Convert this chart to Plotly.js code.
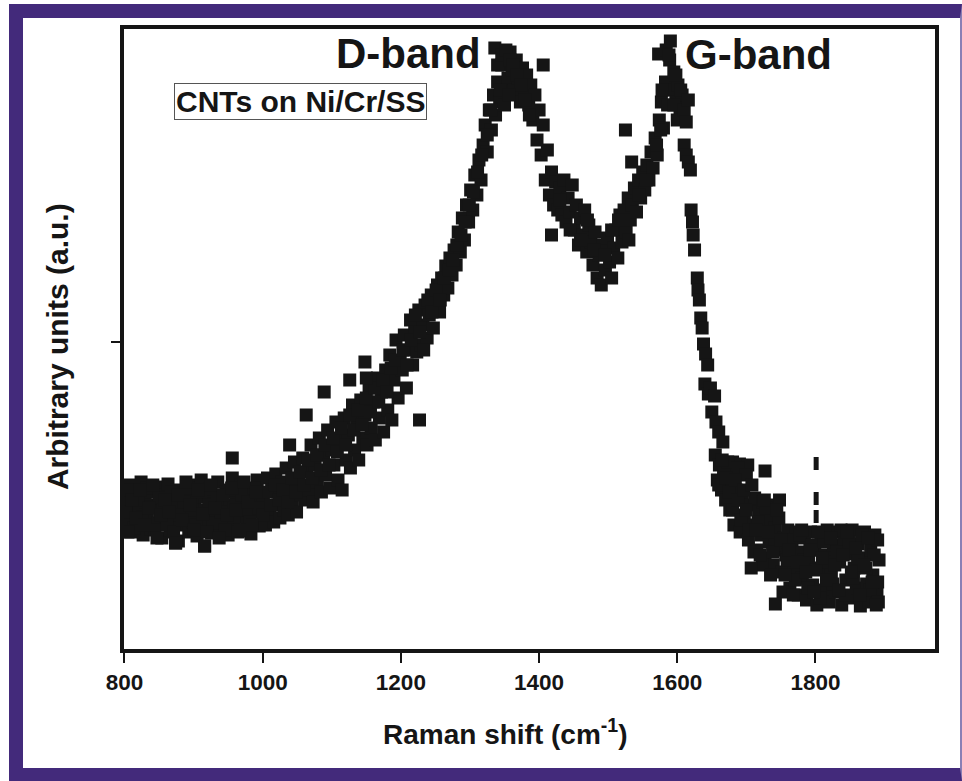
<!DOCTYPE html>
<html><head><meta charset="utf-8">
<script src="https://cdn.plot.ly/plotly-3.0.1.min.js"></script>
<style>
html,body{margin:0;padding:0;background:#fff;}
#wrap{position:relative;width:962px;height:781px;overflow:hidden;}
#chart{width:962px;height:781px;}
#frame{position:absolute;left:9px;top:4px;width:953px;height:777px;box-sizing:border-box;border-left:14px solid #432a7b;border-top:14px solid #432a7b;border-bottom:13px solid #432a7b;border-right:2px solid #8a7fb5;pointer-events:none;}
</style></head><body>
<div id="wrap"><div id="chart"></div><div id="frame"></div></div>
<script>
// Raman shift (cm^-1) and intensity (arbitrary units)
const shiftA = [800,803,806,809,812,815,818,821,824,827,
830,833,836,839,842,845,848,851,854,857,
860,863,866,869,872,875,878,881,884,887,
890,893,896,899,902,905,908,911,914,917,
920,923,926,929,932,935,938,941,944,947,
950,953,956,959,962,965,968,971,974,977,
980,983,986,989,992,995,998];
const intensityA = [150,128,165,118,142,160,125,137,168,115,
148,132,158,121,145,163,127,139,112,155,
134,166,120,147,130,160,109,143,125,157,
136,118,165,128,150,114,140,170,124,153,
131,161,117,146,135,168,122,150,128,158,
115,142,172,126,151,133,165,119,145,130,
160,116,148,138,170,124,154];

const shiftB = [1001,1004,1007,1010,1013,1016,1019,1022,1025,1028,
1031,1034,1037,1040,1043,1046,1049,1052,1055,1058,
1061,1064,1067,1070,1073,1076,1079,1082,1085,1088,
1091,1094,1097,1100,1103,1106,1109,1112,1115,1118,
1121,1124,1127,1130,1133,1136,1139,1142,1145,1148,
1151,1154,1157,1160,1163,1166,1169,1172,1175,1178,
1181,1184,1187,1190,1193,1196,1199];
const intensityB = [150,125,172,138,160,128,176,145,132,168,
140,182,135,160,148,188,138,170,155,192,
150,178,160,205,148,185,168,212,158,195,
175,220,162,200,185,228,170,210,160,232,
190,215,182,245,200,228,190,250,212,235,
205,262,222,248,210,272,232,258,218,280,
240,295,230,270,310,252,288];

const shiftC = [1202,1205,1208,1211,1214,1217,1220,1223,1226,1229,
1232,1235,1238,1241,1244,1247,1250,1253,1256,1259,
1262,1265,1268,1271,1274,1277,1280,1283,1286,1289,
1292,1295,1298,1301,1304,1307,1310,1313,1316,1319,
1322,1325,1328,1331,1334,1337,1340,1343,1346,1349,
1352,1355,1358,1361,1364,1367,1370,1373,1376,1379,
1382,1385,1388,1391,1394,1397,1400];
const intensityC = [280,315,262,300,330,285,318,298,340,305,
325,345,312,335,355,322,348,365,338,372,
355,384,362,392,375,400,385,418,398,432,
410,445,428,460,440,475,455,490,470,505,
525,498,540,520,555,535,568,548,585,560,
592,572,598,580,560,590,572,548,582,560,
575,545,565,530,555,510,540];

const shiftD = [1403,1406,1409,1412,1415,1418,1421,1424,1427,1430,
1433,1436,1439,1442,1445,1448,1451,1454,1457,1460,
1463,1466,1469,1472,1475,1478,1481,1484,1487,1490,
1493,1496,1499,1502,1505,1508,1511,1514,1517,1520,
1523,1526,1529,1532,1535,1538,1541,1544,1547,1550,
1553,1556,1559,1562,1565,1568,1571,1574,1577,1580,
1583,1586,1589,1592,1595,1598,1601,1604,1607];
const intensityD = [495,525,470,500,455,478,445,468,440,462,
435,470,428,452,438,465,420,445,405,432,
415,440,398,425,408,385,418,372,395,365,
405,380,412,388,372,402,420,392,435,408,
440,418,452,430,445,462,438,470,452,478,
460,485,470,498,482,512,495,530,548,522,
568,545,590,560,578,548,565,535,555];

const shiftDrop = [1610,1613,1616,1619,1620,1622,1623,1625,1629,1630,1632,1634,1636,1638,1641,1644,
1640,1645,1648,1654,1650,1656,1660,1666,1662,1668,1672,1680,1685,1690,1698,1702];
const intensityDrop = [505,495,488,480,440,428,415,400,372,360,350,332,322,306,296,285,
266,256,262,254,238,228,218,208,188,176,182,188,178,186,178,185];

const shiftE = [1655,1658,1661,1664,1667,1670,1673,1676,1679,1682,
1685,1688,1691,1694,1697,1700,1703,1706,1709,1712,
1715,1718,1721,1724,1727,1730,1733,1736,1739,1742,
1745,1748,1751,1754,1757,1760,1763,1766,1769,1772,
1775,1778,1781,1784,1787,1790,1793,1796,1799,1802,
1805,1808,1811,1814,1817,1820,1823,1826,1829,1832,
1835,1838,1841,1844,1847,1850,1853,1856,1859,1862,
1865,1868,1871,1874,1877,1880,1883,1886,1889,1892];
const intensityE = [195,170,185,160,178,150,188,140,170,125,
160,182,118,150,135,175,110,145,125,152,
100,138,115,148,92,130,108,145,85,122,
100,150,78,112,95,120,62,105,82,118,
55,98,72,112,50,88,118,65,100,45,
82,116,60,95,120,48,78,105,58,118,
88,45,110,70,96,52,120,82,62,106,
44,92,118,66,48,100,75,115,56,90];

const shiftExtraBase = [802,808,814,820,826,832,838,844,850,856,
862,868,874,880,886,892,898,904,910,916,
922,928,934,940,946,952,958,964,970,976,
982,988,994,1000,1006,1012,1018,1024,1030,1036,
1042,1048,1054,1060,1066,1072,1078,1084,1090,1096,
1102,1108,1114,1120,1126,1132,1138,1144,1150,1156,
1162,1168,1174,1180,1186,1192];
const intensityExtraBase = [138,160,122,150,133,162,143,120,152,140,
125,158,107,135,148,162,140,125,158,104,
145,127,155,138,120,160,145,118,155,140,
128,162,142,135,158,145,165,150,160,148,
172,158,178,165,190,172,195,180,205,185,
212,198,222,205,235,220,240,225,252,238,
262,248,270,258,282,290];

const shiftExtraBase2 = [805,811,817,823,829,835,841,847,853,859,
865,871,877,883,889,895,901,907,913,919,
925,931,937,943,949,955,961,967,973,979,
985,991];
const intensityExtraBase2 = [118,150,132,160,125,142,165,112,135,150,
138,118,155,130,168,145,120,160,136,118,
165,142,112,155,135,162,140,120,168,148,
125,158];

const shiftExtraRise = [1203,1209,1215,1221,1227,1233,1239,1245,1251,1257,
1263,1269,1275,1281,1287,1293,1299,1305,1311,1317];
const intensityExtraRise = [300,285,310,335,318,300,350,338,360,350,
372,380,390,405,415,428,445,458,478,495];

const shiftExtraPeaks = [1336,1406,1340,1346,1352,1358,1344,1350,1362,1368,1374,1380,1386,1356,1330,1325,
1418,1525,1534,1430,1445,1460,1470,1480,1495,1505,1515,1530,1545,1555,1570,1576,
1573,1584,1588,1590,1595,1600,1605,1610,1613,1616,1598,1578];
const intensityExtraPeaks = [602,585,585,595,600,590,560,545,585,575,565,550,535,555,540,515,
415,520,488,450,420,410,430,400,395,420,430,410,455,470,505,520,
596,600,595,609,545,530,560,540,528,550,575,560];

const shiftExtraShoulder = [1660,1665,1670,1675,1680,1684,1688,1692,1696,1700,1704,1708];
const intensityExtraShoulder = [165,190,172,158,140,170,150,130,160,140,120,165];

const shiftExtraRight = [1711,1717,1723,1729,1735,1741,1747,1753,1759,1765,
1771,1777,1783,1789,1795,1801,1807,1813,1819,1825,
1831,1837,1843,1849,1855,1861,1867,1873,1879,1885,
1890,1890,1891];
const intensityExtraRight = [98,128,85,142,75,105,132,58,90,110,
70,115,90,62,105,80,52,108,88,66,
98,120,55,108,72,92,115,82,60,95,
110,68,48];

const shiftExtraRight2 = [1714,1720,1726,1732,1738,1744,1750,1756,1762,1768,
1774,1780,1786,1792,1798,1804,1810,1816,1822,1828,
1834,1840,1846,1852,1858,1864,1870,1876,1882,1888];
const intensityExtraRight2 = [120,95,150,118,98,140,110,75,100,55,
88,120,78,100,58,118,92,70,112,85,
60,95,118,78,102,55,85,112,68,45];

const shiftOutliers = [874,916,956,1039,1063,1089,1126,1148,1150,1227,1707,1742,1727];
const intensityOutliers = [107,104,192,205,235,258,270,288,272,230,82,46,179];

// short dashed vertical mark near 1800 cm^-1
const markShift = [1801,1801];
const markIntensity = [193,127];

const xTicks = [800,1000,1200,1400,1600,1800];
const yTicks = [308];

const ramanShift = [].concat(shiftA, shiftB, shiftC, shiftD, shiftDrop, shiftE,
  shiftExtraBase, shiftExtraBase2, shiftExtraRise, shiftExtraPeaks, shiftExtraShoulder,
  shiftExtraRight, shiftExtraRight2, shiftOutliers);
const intensity = [].concat(intensityA, intensityB, intensityC, intensityD, intensityDrop, intensityE,
  intensityExtraBase, intensityExtraBase2, intensityExtraRise, intensityExtraPeaks, intensityExtraShoulder,
  intensityExtraRight, intensityExtraRight2, intensityOutliers);

const ink = '#151515';
const fontFam = '"Liberation Sans", Arial, Helvetica, sans-serif';

const traces = [
  {x: ramanShift, y: intensity, type: 'scatter', mode: 'markers',
   marker: {symbol: 'square', size: 13, color: ink, line: {width: 0}}, hoverinfo: 'x+y'},
  {x: markShift, y: markIntensity, type: 'scatter', mode: 'lines',
   line: {color: ink, width: 5, dash: '13px,22px,13px,5px'}, hoverinfo: 'skip'}
];

const layout = {
  width: 962, height: 781,
  margin: {l: 124, r: 27, t: 29, b: 132},
  paper_bgcolor: '#ffffff', plot_bgcolor: '#ffffff',
  showlegend: false,
  font: {family: fontFam, color: ink, weight: 'bold'},
  xaxis: {
    range: [799.3, 1973], tickvals: xTicks, ticktext: xTicks.map(String),
    ticks: 'outside', ticklen: 10, tickwidth: 2, tickcolor: ink,
    showline: true, linewidth: 4, linecolor: ink, mirror: true,
    showgrid: false, zeroline: false,
    tickfont: {family: fontFam, size: 22.5, color: ink, weight: 'bold'}
  },
  yaxis: {
    range: [1, 621], tickvals: yTicks, showticklabels: false,
    ticks: 'outside', ticklen: 9, tickwidth: 2, tickcolor: ink,
    showline: true, linewidth: 4, linecolor: ink, mirror: true,
    showgrid: false, zeroline: false
  },
  annotations: [
    {text: 'Raman shift (cm<sup>-1</sup>)', xref: 'paper', yref: 'paper', x: 0.4698, y: -0.1335,
     xanchor: 'center', yanchor: 'middle', showarrow: false,
     font: {family: fontFam, size: 28, color: ink, weight: 'bold'}},
    {text: 'Arbitrary units (a.u.)', xref: 'paper', yref: 'paper', x: -0.0826, y: 0.487,
     xanchor: 'center', yanchor: 'middle', textangle: -90, showarrow: false,
     font: {family: fontFam, size: 30, color: ink, weight: 'bold'}},
    {text: 'D-band', xref: 'x', yref: 'y', x: 1102.5, y: 597, xanchor: 'left', yanchor: 'middle',
     showarrow: false, font: {family: fontFam, size: 42, color: ink, weight: 'bold'}},
    {text: 'G-band', xref: 'x', yref: 'y', x: 1609, y: 596, xanchor: 'left', yanchor: 'middle',
     showarrow: false, font: {family: fontFam, size: 42, color: ink, weight: 'bold'}},
    {text: 'CNTs on Ni/Cr/SS', xref: 'x', yref: 'y', x: 1054.7, y: 549, xanchor: 'center', yanchor: 'middle',
     showarrow: false, bordercolor: '#555555', borderwidth: 1, borderpad: 1, bgcolor: '#ffffff',
     font: {family: fontFam, size: 30, color: ink, weight: 'bold'}}
  ]
};

Plotly.newPlot('chart', traces, layout, {displayModeBar: false, staticPlot: true});
</script>
</body></html>
